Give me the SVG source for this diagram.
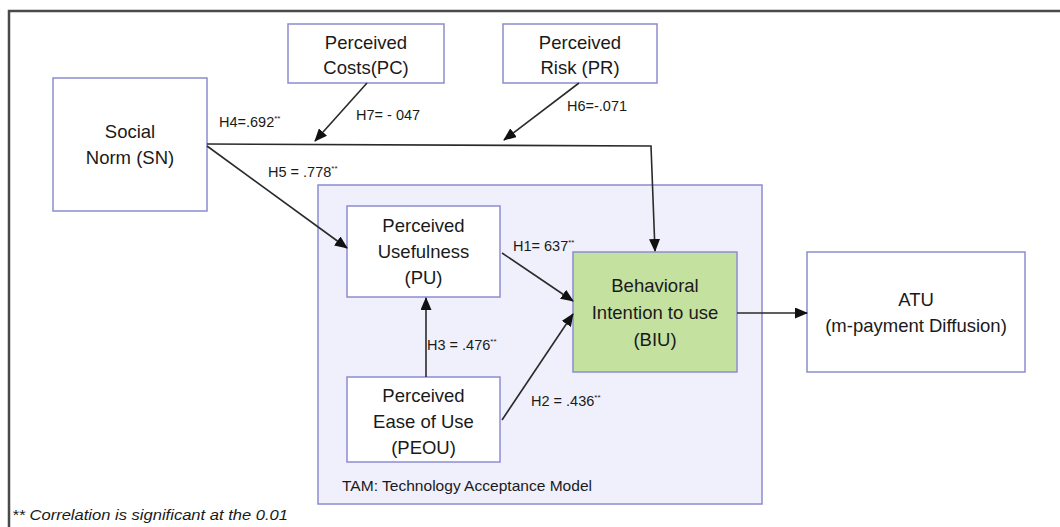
<svg xmlns="http://www.w3.org/2000/svg" width="1060" height="527" viewBox="0 0 1060 527">
  <style>
    .box { fill: #ffffff; stroke: #8c8cd2; stroke-width: 1.5; }
    .tam { fill: #f0f0fc; stroke: #8c8cd2; stroke-width: 1.5; }
    .biu { fill: #c5e19f; stroke: #8c8cd2; stroke-width: 1.5; }
    .node { font-family: "Liberation Sans", Arial, sans-serif; font-size: 18.5px; fill: #1a1a1a; text-anchor: middle; }
    .lbl { font-family: "Liberation Sans", Arial, sans-serif; font-size: 14.5px; fill: #1a1a1a; }
    .sup { font-size: 8px; }
    .edge { fill: none; stroke: #2a2a2a; stroke-width: 1.6; }
    .frame { fill: none; stroke: #4a4a4a; stroke-width: 2.5; }
  </style>
  <defs>
    <marker id="arrow" viewBox="0 0 13 11" refX="12" refY="5.5" markerWidth="13" markerHeight="11" markerUnits="userSpaceOnUse" orient="auto">
      <path d="M0,0 L13,5.5 L0,11 Z" fill="#111"/>
    </marker>
  </defs>

  <rect width="1060" height="527" fill="#ffffff"/>
  <!-- outer frame: top and left rules -->
  <polyline class="frame" points="9,527 9,11 1060,11"/>

  <!-- TAM container -->
  <g id="tam">
    <rect class="tam" x="318" y="185" width="444" height="319"/>
    <text class="lbl" x="342" y="491" textLength="250" lengthAdjust="spacingAndGlyphs">TAM: Technology  Acceptance Model</text>
  </g>

  <g id="sn">
    <rect class="box" x="53" y="78" width="154" height="133"/>
    <text class="node" x="130" y="138">Social</text>
    <text class="node" x="130" y="164">Norm (SN)</text>
  </g>

  <g id="pc">
    <rect class="box" x="288" y="24" width="156" height="59"/>
    <text class="node" x="366" y="49">Perceived</text>
    <text class="node" x="366" y="74">Costs(PC)</text>
  </g>

  <g id="pr">
    <rect class="box" x="503" y="24" width="154" height="59"/>
    <text class="node" x="580" y="49">Perceived</text>
    <text class="node" x="580" y="74">Risk (PR)</text>
  </g>

  <g id="pu">
    <rect class="box" x="347" y="206" width="153" height="91"/>
    <text class="node" x="423.5" y="232">Perceived</text>
    <text class="node" x="423.5" y="258">Usefulness</text>
    <text class="node" x="423.5" y="284">(PU)</text>
  </g>

  <g id="peou">
    <rect class="box" x="347" y="377" width="153" height="85"/>
    <text class="node" x="423.5" y="402">Perceived</text>
    <text class="node" x="423.5" y="428">Ease of Use</text>
    <text class="node" x="423.5" y="454">(PEOU)</text>
  </g>

  <g id="biu">
    <rect class="biu" x="573" y="252" width="164" height="120"/>
    <text class="node" x="655" y="292">Behavioral</text>
    <text class="node" x="655" y="319">Intention to use</text>
    <text class="node" x="655" y="346">(BIU)</text>
  </g>

  <g id="atu">
    <rect class="box" x="807" y="252" width="218" height="120"/>
    <text class="node" x="916" y="306">ATU</text>
    <text class="node" x="916" y="332">(m-payment Diffusion)</text>
  </g>

  <!-- connectors -->
  <g id="connectors">
    <polyline class="edge" points="207,144 651,146 655,251" marker-end="url(#arrow)" stroke-width="2"/>
    <line class="edge" x1="207" y1="146" x2="347" y2="248" marker-end="url(#arrow)"/>
    <line class="edge" x1="367" y1="83" x2="315" y2="141" marker-end="url(#arrow)"/>
    <line class="edge" x1="579" y1="83" x2="504" y2="140" marker-end="url(#arrow)"/>
    <line class="edge" x1="502" y1="253" x2="573" y2="301" marker-end="url(#arrow)"/>
    <line class="edge" x1="502" y1="420" x2="573" y2="314" marker-end="url(#arrow)"/>
    <line class="edge" x1="426" y1="377" x2="426" y2="298" marker-end="url(#arrow)"/>
    <line class="edge" x1="737" y1="313" x2="807" y2="313" marker-end="url(#arrow)" stroke-width="2"/>
  </g>

  <!-- path coefficients -->
  <g id="labels">
    <text class="lbl" x="219" y="127">H4=.692<tspan class="sup" dy="-6">**</tspan></text>
    <text class="lbl" x="356" y="120">H7=  - 047</text>
    <text class="lbl" x="567" y="111">H6=-.071</text>
    <text class="lbl" x="268" y="177">H5 = .778<tspan class="sup" dy="-6">**</tspan></text>
    <text class="lbl" x="513" y="251">H1= 637<tspan class="sup" dy="-6">**</tspan></text>
    <text class="lbl" x="427" y="350">H3 = .476<tspan class="sup" dy="-6">**</tspan></text>
    <text class="lbl" x="531" y="406">H2 = .436<tspan class="sup" dy="-6">**</tspan></text>
  </g>

  <text x="12" y="520" font-family="Liberation Sans, Arial, sans-serif" font-size="15" font-style="italic" fill="#1a1a1a" textLength="276" lengthAdjust="spacingAndGlyphs">** Correlation is significant at the 0.01</text>
</svg>
